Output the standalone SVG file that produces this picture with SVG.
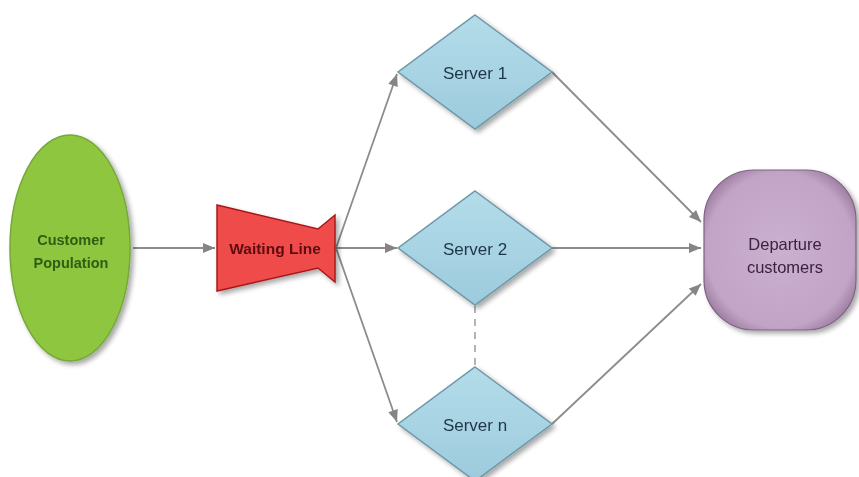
<svg xmlns="http://www.w3.org/2000/svg" width="859" height="477" viewBox="0 0 859 477">
  <defs>
    <style>
      .lbl { font-family: "Liberation Sans", "DejaVu Sans", sans-serif; text-anchor: middle; }
      .edge { stroke: #8c8c8c; stroke-width: 1.8; fill: none; }
      .diamond { fill: url(#blueFill); stroke: #6f97a8; stroke-width: 1.5; }
    </style>
    <marker id="arrow" viewBox="0 0 12 10" refX="12" refY="5" markerWidth="12" markerHeight="10" markerUnits="userSpaceOnUse" orient="auto" overflow="visible">
      <path d="M0,0 L12,5 L0,10 Z" fill="#858585"/>
    </marker>
    <linearGradient id="blueFill" x1="0" y1="0" x2="0" y2="1">
      <stop offset="0" stop-color="#b4dcea"/>
      <stop offset="1" stop-color="#9ccbdd"/>
    </linearGradient>
    <radialGradient id="purpleFill" cx="0.5" cy="0.5" r="0.62">
      <stop offset="0" stop-color="#cbb0d0"/>
      <stop offset="0.78" stop-color="#c2a4c6"/>
      <stop offset="1" stop-color="#8d6e92"/>
    </radialGradient>
    <filter id="shadow" x="-20%" y="-20%" width="140%" height="140%">
      <feGaussianBlur in="SourceAlpha" stdDeviation="2.5"/>
      <feOffset dx="3" dy="3" result="b"/>
      <feComponentTransfer><feFuncA type="linear" slope="0.35"/></feComponentTransfer>
      <feMerge><feMergeNode/><feMergeNode in="SourceGraphic"/></feMerge>
    </filter>
  </defs>

  <rect width="859" height="477" fill="#ffffff"/>

  <g id="connectors">
    <line class="edge" x1="133" y1="248" x2="215" y2="248" marker-end="url(#arrow)"/>
    <line class="edge" x1="336" y1="248" x2="397" y2="74" marker-end="url(#arrow)"/>
    <line class="edge" x1="336" y1="248" x2="397" y2="248" marker-end="url(#arrow)"/>
    <line class="edge" x1="336" y1="248" x2="397" y2="422" marker-end="url(#arrow)"/>
    <line class="edge" x1="552" y1="72" x2="701" y2="222" marker-end="url(#arrow)"/>
    <line class="edge" x1="552" y1="248" x2="701" y2="248" marker-end="url(#arrow)"/>
    <line class="edge" x1="552" y1="424" x2="701" y2="284" marker-end="url(#arrow)"/>
    <line x1="475" y1="306" x2="475" y2="366" stroke="#9a9a9a" stroke-width="1.5" stroke-dasharray="7,6"/>
  </g>

  <g id="customer-population" filter="url(#shadow)">
    <ellipse cx="70" cy="248" rx="60" ry="113" fill="#8ec63f" stroke="#76a83a" stroke-width="1.5"/>
    <text class="lbl" x="71" y="245" fill="#2e5d12" font-weight="bold" font-size="14.5">Customer</text>
    <text class="lbl" x="71" y="268" fill="#2e5d12" font-weight="bold" font-size="14.5">Population</text>
  </g>

  <g id="waiting-line" filter="url(#shadow)">
    <polygon points="217,205 318,229 335,215 335,282 318,268 217,291" fill="#f04c4c" stroke="#a81818" stroke-width="1.5"/>
    <text class="lbl" x="275" y="254" fill="#5c0c0c" font-weight="bold" font-size="15.5">Waiting Line</text>
  </g>

  <g id="server-1" filter="url(#shadow)">
    <polygon class="diamond" points="475,15 552,72 475,129 398,72"/>
    <text class="lbl" x="475" y="79" fill="#1e3747" font-size="17">Server 1</text>
  </g>

  <g id="server-2" filter="url(#shadow)">
    <polygon class="diamond" points="475,191 552,248 475,305 398,248"/>
    <text class="lbl" x="475" y="255" fill="#1e3747" font-size="17">Server 2</text>
  </g>

  <g id="server-n" filter="url(#shadow)">
    <polygon class="diamond" points="475,367 552,424 475,481 398,424"/>
    <text class="lbl" x="475" y="431" fill="#1e3747" font-size="17">Server n</text>
  </g>

  <g id="departure-customers" filter="url(#shadow)">
    <rect x="704" y="170" width="152" height="160" rx="50" ry="50" fill="url(#purpleFill)" stroke="#7e6283" stroke-width="1.2"/>
    <text class="lbl" x="785" y="250" fill="#3b2240" font-size="16.5">Departure</text>
    <text class="lbl" x="785" y="273" fill="#3b2240" font-size="16.5">customers</text>
  </g>
</svg>
